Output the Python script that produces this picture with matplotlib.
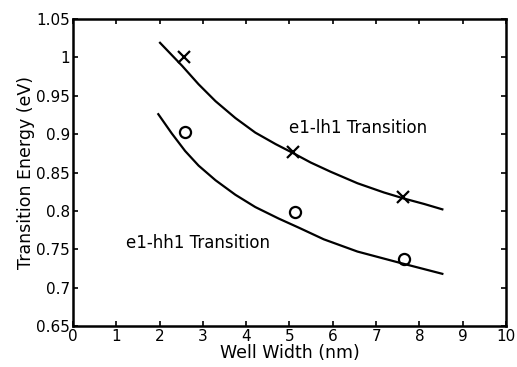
import matplotlib
matplotlib.use("Agg")
import matplotlib.pyplot as plt

plt.rcParams['font.family'] = ['DejaVu Sans']

# Fitted curves
lh_curve_x = [2.01, 2.52, 2.90, 3.29, 3.75, 4.21, 4.68, 5.06, 5.49, 5.95, 6.57, 7.18, 7.65, 8.11, 8.53]
lh_curve_y = [1.019, 0.989, 0.965, 0.943, 0.921, 0.902, 0.887, 0.876, 0.863, 0.851, 0.836, 0.824, 0.816, 0.809, 0.802]
hh_curve_x = [1.97, 2.28, 2.59, 2.90, 3.29, 3.75, 4.21, 4.75, 5.22, 5.79, 6.57, 7.57, 8.53]
hh_curve_y = [0.926, 0.901, 0.878, 0.859, 0.840, 0.821, 0.805, 0.790, 0.778, 0.763, 0.747, 0.732, 0.718]

# Measured points
lh_pts_x = [2.56, 5.09, 7.63]
lh_pts_y = [1.000, 0.877, 0.818]
hh_pts_x = [2.59, 5.12, 7.65]
hh_pts_y = [0.903, 0.798, 0.737]

xticks = [0, 1, 2, 3, 4, 5, 6, 7, 8, 9, 10]
yticks = [0.65, 0.7, 0.75, 0.8, 0.85, 0.9, 0.95, 1.0, 1.05]
ytick_labels = ['0.65', '0.7', '0.75', '0.8', '0.85', '0.9', '0.95', '1', '1.05']

fig = plt.figure(figsize=(5.17, 3.67), dpi=100)
ax = fig.add_axes([0.1412, 0.1117, 0.8375, 0.8365])

ax.plot(lh_curve_x, lh_curve_y, color='black', lw=1.6, solid_joinstyle='round')
ax.plot(hh_curve_x, hh_curve_y, color='black', lw=1.6, solid_joinstyle='round')
ax.plot(lh_pts_x, lh_pts_y, linestyle='none', marker='x', color='black', ms=9, mew=1.6)
ax.plot(hh_pts_x, hh_pts_y, linestyle='none', marker='o', mfc='none', mec='black', ms=8, mew=1.6)

ax.text(4.98, 0.908, 'e1-lh1 Transition', fontsize=12, va='center', ha='left')
ax.text(1.23, 0.758, 'e1-hh1 Transition', fontsize=12, va='center', ha='left')

ax.set_xlim(0, 10)
ax.set_ylim(0.65, 1.05)
ax.set_xticks(xticks)
ax.set_xticklabels([str(t) for t in xticks])
ax.set_yticks(yticks)
ax.set_yticklabels(ytick_labels)
ax.tick_params(direction='in', length=3.5, width=1.2, top=True, right=True,
               labelsize=11, pad=2)
for s in ax.spines.values():
    s.set_linewidth(1.8)

ax.set_xlabel('Well Width (nm)', fontsize=12.5, labelpad=0)
ax.set_ylabel('Transition Energy (eV)', fontsize=12.5, labelpad=1)

fig.savefig('out.png', dpi=100)
